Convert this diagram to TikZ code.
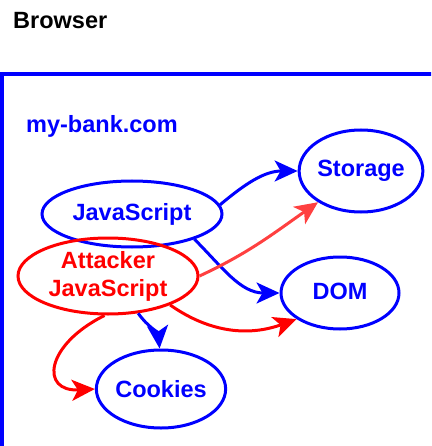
\documentclass[tikz,border=0pt]{standalone}
\usepackage{fontspec}
\setmainfont{Liberation Sans}
\usetikzlibrary{shapes.geometric,arrows.meta}
\definecolor{pblue}{RGB}{0,0,255}
\definecolor{pred}{RGB}{255,0,0}
\definecolor{lred}{RGB}{255,64,64}
\begin{document}
\begin{tikzpicture}[x=1pt,y=-1pt,
  every node/.style={font=\bfseries\fontsize{23.5}{28}\selectfont},
  oval/.style={ellipse, draw=pblue, line width=3pt, inner sep=0pt, text=pblue, align=center},
  redoval/.style={oval, draw=pred, text=pred},
  conn/.style={line width=3pt, -{Stealth[length=23pt,width=21pt,inset=6pt]}},
  bconn/.style={conn, pblue},
  rconn/.style={conn, pred},
  lconn/.style={conn, lred}]
\useasboundingbox (0,0) rectangle (431,446);
\clip (0,0) rectangle (431,446);
\node[anchor=base west, inner sep=0pt] (title) at (13,29) {Browser};
\draw[pblue, line width=4pt] (2,74) rectangle (460,470);
\node[anchor=base west, inner sep=0pt, text=pblue] (origin) at (26,133) {my-bank.com};
\node[oval, minimum width=180pt, minimum height=66pt] (js) at (132,214) {\raisebox{3pt}{JavaScript}};
\node[redoval, minimum width=180pt, minimum height=76pt] (atk) at (108,276) {Attacker\\JavaScript};
\node[oval, minimum width=118pt, minimum height=82pt] (st) at (361,171) {Storage};
\node[oval, minimum width=118pt, minimum height=72pt] (dom) at (340,293) {\raisebox{3pt}{DOM}};
\node[oval, minimum width=120pt, minimum height=78pt] (ck) at (161,389) {Cookies};
\coordinate (c1) at (45,345);
\coordinate (c2) at (40,392);
\draw[bconn] (js.6) to[out=40, in=180] (st.180);
\draw[bconn] (js.-22) to[out=-45, in=180] (dom.180);
\draw[lconn] (atk.0) to[out=25, in=215] (st.216);
\draw[rconn] (atk.-25) to[out=-35, in=200] (dom.211);
\draw[bconn] (atk.-51) to[out=-55, in=95] (ck.92);
\draw[rconn] (atk.-95) .. controls (c1) and (c2) .. (ck.180);
\end{tikzpicture}
\end{document}
